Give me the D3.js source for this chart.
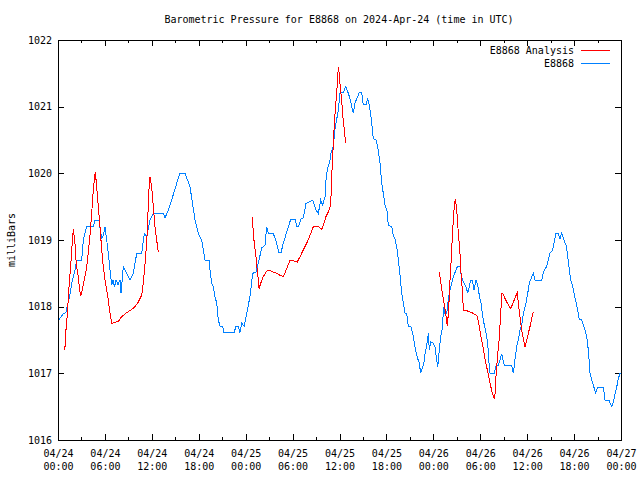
<!DOCTYPE html>
<html>
<head>
<meta charset="utf-8">
<script src="https://cdn.jsdelivr.net/npm/d3@7"></script>
<style>
  html, body { margin: 0; padding: 0; background: #fff; }
  svg { display: block; }
  text { font-family: "DejaVu Sans Mono", "Liberation Mono", monospace; font-size: 10px; fill: #000; }
</style>
</head>
<body>
<svg id="chart" width="640" height="480"></svg>
<script>
// ---------- DATA ----------
const chartTitle = "Barometric Pressure for E8868 on 2024-Apr-24 (time in UTC)";
const yAxisLabel = "milliBars";
const seriesNames = ["E8868 Analysis", "E8868"];
const startTime = "2024-04-24T00:00:00Z";
const xTickHours = [0, 6, 12, 18, 24, 30, 36, 42, 48, 54, 60, 66, 72];
const xMinorTickHours = [3, 9, 15, 21, 27, 33, 39, 45, 51, 57, 63, 69];
const yTicks = [1016, 1017, 1018, 1019, 1020, 1021, 1022];

// Station observations (hours since 04/24 00:00 UTC, mb)
const stationHours = [
  0.1, 0.73, 1.02, 1.15, 1.37, 1.57, 1.75, 2.17, 2.39, 3.03, 3.24, 3.67, 4.51, 4.73, 5.28, 5.37, 5.59, 5.79, 6.01, 6.23,
  6.43, 6.65, 6.87, 7.03, 7.23, 7.42, 7.67, 7.93, 8.06, 8.35, 8.79, 9.21, 9.63, 10.07, 10.70, 11.04, 11.34, 11.77, 12.19, 13.47,
  13.68, 14.11, 14.54, 15.18, 15.60, 16.24, 16.88, 17.52, 17.94, 18.38, 18.80, 19.35, 19.44, 19.66, 19.86, 20.08, 20.30, 20.50, 20.72, 21.06,
  21.23, 22.51, 22.76, 23.06, 23.27, 23.49, 23.82, 24.13, 24.55, 24.90, 25.32, 25.61, 26.05, 26.47, 26.69, 26.89, 27.53, 27.97, 28.26, 28.52,
  28.81, 29.25, 29.76, 30.31, 30.53, 30.78, 31.04, 31.37, 31.72, 32.57, 33.00, 33.29, 33.60, 33.85, 34.15, 34.27, 34.44, 34.79, 34.88, 35.21,
  35.30, 35.43, 35.85, 36.06, 36.28, 36.51, 36.79, 37.13, 37.34, 37.56, 37.76, 37.98, 38.20, 38.53, 38.84, 39.04, 39.39, 39.60, 39.77, 40.03,
  40.32, 40.67, 40.96, 41.18, 41.40, 41.60, 41.82, 42.11, 42.24, 42.68, 42.88, 43.10, 43.39, 43.74, 43.96, 44.16, 44.38, 44.59, 44.80, 45.14,
  45.36, 45.57, 45.78, 46.00, 46.21, 46.38, 46.64, 46.81, 46.94, 47.15, 47.36, 47.49, 47.66, 48.00, 48.21, 48.43, 48.56, 48.76, 48.94, 49.20,
  49.28, 49.49, 49.71, 49.92, 50.13, 50.35, 50.55, 50.90, 51.07, 51.41, 51.50, 51.84, 52.18, 52.40, 52.60, 52.78, 52.99, 53.20, 53.46, 53.68,
  53.88, 54.10, 54.39, 54.74, 54.95, 55.12, 55.25, 55.80, 55.98, 56.31, 56.53, 56.74, 57.08, 58.02, 58.23, 58.45, 58.66, 58.87, 59.08, 59.30,
  59.51, 59.85, 60.07, 60.27, 60.49, 60.78, 61.00, 61.86, 62.06, 62.28, 62.50, 62.70, 62.92, 63.26, 63.43, 63.69, 63.98, 64.20, 64.41, 64.71,
  64.97, 65.13, 65.39, 65.57, 65.82, 65.99, 66.25, 66.41, 66.67, 66.98, 67.18, 67.40, 67.61, 67.82, 68.04, 68.25, 68.46, 68.76, 69.02, 69.74,
  69.96, 70.47, 70.60, 70.82, 71.02, 71.24, 71.46, 71.66, 71.88
];
const stationPressure = [
  1017.8, 1017.9, 1017.91, 1018.0, 1018.1, 1018.2, 1018.35, 1018.55, 1018.7, 1018.7, 1019.0, 1019.2, 1019.2, 1019.3, 1019.3, 1019.18, 1019.03, 1019.07, 1019.2, 1019.0,
  1018.8, 1018.55, 1018.33, 1018.4, 1018.3, 1018.4, 1018.33, 1018.4, 1018.2, 1018.6, 1018.5, 1018.4, 1018.5, 1018.8, 1018.8, 1019.1, 1019.05, 1019.3, 1019.4, 1019.4,
  1019.33, 1019.45, 1019.6, 1019.85, 1020.0, 1020.0, 1019.8, 1019.3, 1019.1, 1019.0, 1018.7, 1018.7, 1018.55, 1018.35, 1018.3, 1018.15, 1018.05, 1017.8, 1017.71, 1017.7,
  1017.61, 1017.61, 1017.7, 1017.7, 1017.61, 1017.75, 1017.71, 1017.9, 1018.15, 1018.5, 1018.52, 1018.65, 1018.88, 1018.92, 1019.2, 1019.1, 1019.1, 1018.95, 1018.81, 1018.81,
  1018.95, 1019.12, 1019.31, 1019.31, 1019.21, 1019.21, 1019.31, 1019.33, 1019.55, 1019.6, 1019.45, 1019.4, 1019.6, 1019.52, 1019.65, 1019.9, 1020.05, 1020.2, 1020.3, 1020.4,
  1020.52, 1020.67, 1020.95, 1021.2, 1021.22, 1021.22, 1021.3, 1021.2, 1021.12, 1021.0, 1020.9, 1021.05, 1021.12, 1021.21, 1021.21, 1021.03, 1021.03, 1021.11, 1021.05, 1020.85,
  1020.52, 1020.5, 1020.35, 1020.15, 1019.85, 1019.7, 1019.52, 1019.42, 1019.22, 1019.2, 1019.07, 1019.02, 1018.85, 1018.47, 1018.2, 1018.05, 1017.9, 1017.9, 1017.7, 1017.7,
  1017.6, 1017.45, 1017.32, 1017.22, 1017.15, 1017.0, 1017.1, 1017.17, 1017.3, 1017.42, 1017.6, 1017.35, 1017.47, 1017.45, 1017.4, 1017.2, 1017.1, 1017.35, 1017.55, 1017.7,
  1018.0, 1017.9, 1017.9, 1018.12, 1018.25, 1018.35, 1018.45, 1018.55, 1018.6, 1018.6, 1018.5, 1018.37, 1018.3, 1018.2, 1018.3, 1018.4, 1018.4, 1018.25, 1018.4, 1018.32,
  1018.17, 1018.05, 1017.8, 1017.6, 1017.45, 1017.15, 1017.0, 1017.0, 1017.1, 1017.12, 1017.2, 1017.29, 1017.12, 1017.12, 1017.0, 1017.22, 1017.4, 1017.5, 1017.65, 1017.72,
  1017.9, 1018.05, 1018.2, 1018.35, 1018.42, 1018.5, 1018.4, 1018.4, 1018.5, 1018.57, 1018.6, 1018.7, 1018.8, 1018.85, 1018.95, 1019.1, 1019.1, 1019.02, 1019.1, 1019.0,
  1018.92, 1018.82, 1018.55, 1018.4, 1018.3, 1018.2, 1018.07, 1017.97, 1017.81, 1017.8, 1017.72, 1017.65, 1017.55, 1017.35, 1017.0, 1016.9, 1016.82, 1016.71, 1016.79, 1016.79,
  1016.6, 1016.6, 1016.55, 1016.5, 1016.57, 1016.7, 1016.8, 1016.92, 1017.0
];

// Analysis runs: [hours since 04/24 00:00 UTC, mb]
const analysisRun1 = [
  [0.86, 1017.35], [0.93, 1017.45], [1.02, 1017.65], [1.15, 1017.82], [1.28, 1018.05], [1.45, 1018.37], [1.62, 1018.6], [1.75, 1018.85],
  [1.88, 1019.05], [1.96, 1019.16], [2.17, 1018.95], [2.30, 1018.7], [2.39, 1018.6], [2.60, 1018.45], [2.72, 1018.3], [2.90, 1018.16],
  [3.03, 1018.22], [3.24, 1018.33], [3.45, 1018.45], [3.67, 1018.6], [3.88, 1018.82], [4.09, 1019.07], [4.31, 1019.4], [4.51, 1019.75],
  [4.64, 1019.9], [4.77, 1020.02], [4.95, 1019.8], [5.15, 1019.5], [5.37, 1019.2], [5.59, 1018.85], [5.79, 1018.6], [6.01, 1018.4],
  [6.23, 1018.25], [6.43, 1018.1], [6.65, 1017.9], [6.87, 1017.75], [7.71, 1017.78], [8.15, 1017.85], [8.79, 1017.91], [9.43, 1017.96],
  [9.85, 1018.0], [10.27, 1018.07], [10.70, 1018.17], [10.91, 1018.35], [11.13, 1018.65], [11.34, 1018.95], [11.47, 1019.3], [11.60, 1019.7],
  [11.77, 1019.95], [11.98, 1019.8], [12.19, 1019.5], [12.40, 1019.2], [12.62, 1019.0], [12.83, 1018.82]
];
const analysisRun2 = [
  [24.85, 1019.35], [24.97, 1019.12], [25.10, 1018.95], [25.28, 1018.8], [25.41, 1018.62], [25.54, 1018.5], [25.71, 1018.27], [25.92, 1018.35],
  [26.25, 1018.45], [26.60, 1018.52], [26.89, 1018.55], [27.53, 1018.52], [27.97, 1018.5], [28.39, 1018.47], [28.81, 1018.45], [29.25, 1018.57],
  [29.67, 1018.7], [30.09, 1018.69], [30.60, 1018.67], [30.95, 1018.75], [31.37, 1018.85], [31.80, 1018.95], [32.23, 1019.07], [32.65, 1019.2],
  [33.29, 1019.2], [33.72, 1019.16], [34.02, 1019.25], [34.27, 1019.35], [34.57, 1019.42], [34.79, 1019.5], [34.91, 1019.65], [35.00, 1019.95],
  [35.13, 1020.25], [35.30, 1020.65], [35.46, 1020.95], [35.64, 1021.2], [35.77, 1021.45], [35.85, 1021.6], [35.97, 1021.5], [36.06, 1021.35],
  [36.28, 1021.1], [36.41, 1020.87], [36.57, 1020.7], [36.70, 1020.55], [36.79, 1020.46]
];
const analysisRun3 = [
  [48.76, 1018.52], [48.94, 1018.37], [49.15, 1018.2], [49.37, 1018.05], [49.58, 1017.9], [49.71, 1017.78], [49.79, 1017.71], [49.92, 1017.9],
  [50.04, 1018.15], [50.13, 1018.4], [50.26, 1018.65], [50.43, 1019.05], [50.55, 1019.3], [50.68, 1019.5], [50.81, 1019.62], [50.99, 1019.45],
  [51.20, 1019.1], [51.41, 1018.8], [51.54, 1018.5], [51.71, 1018.25], [51.84, 1017.95], [52.27, 1017.94], [52.69, 1017.92], [53.11, 1017.9],
  [53.63, 1017.86], [53.84, 1017.72], [54.06, 1017.57], [54.27, 1017.45], [54.49, 1017.3], [54.71, 1017.15], [54.91, 1017.05], [55.25, 1016.85],
  [55.55, 1016.7], [55.80, 1016.61], [55.89, 1016.7], [55.98, 1016.9], [56.11, 1017.1], [56.24, 1017.3], [56.41, 1017.5], [56.62, 1017.9],
  [56.75, 1018.2], [56.88, 1018.2], [57.18, 1018.12], [57.47, 1018.05], [57.91, 1017.97], [58.24, 1018.07], [58.54, 1018.16], [58.75, 1018.21],
  [58.87, 1018.05], [59.08, 1017.85], [59.30, 1017.65], [59.51, 1017.52], [59.72, 1017.4], [59.94, 1017.5], [60.15, 1017.6], [60.36, 1017.7],
  [60.58, 1017.82], [60.78, 1017.92]
];
const analysisRuns = [analysisRun1, analysisRun2, analysisRun3];

// ---------- DRAW ----------
const W = 640, H = 480;
const plot = { left: 58, right: 621, top: 40, bottom: 440 };
const colors = { analysis: "#ff0000", station: "#0080ff" };

const t0 = new Date(startTime);
const toDate = h => new Date(t0.getTime() + h * 3600 * 1000);

const x = d3.scaleUtc()
  .domain([toDate(0), toDate(72)])
  .range([plot.left, plot.right]);
const y = d3.scaleLinear()
  .domain([1016, 1022])
  .range([plot.bottom, plot.top]);

const svg = d3.select("#chart");
svg.append("rect").attr("width", W).attr("height", H).attr("fill", "#fff");

const fmtDate = d3.utcFormat("%m/%d");
const fmtTime = d3.utcFormat("%H:%M");

// Bottom axis (ticks inward)
const gx = svg.append("g")
  .attr("transform", `translate(0,${plot.bottom})`)
  .call(d3.axisBottom(x).tickValues(xTickHours.map(toDate)).tickSize(-6).tickPadding(9).tickSizeOuter(0)
    .tickFormat(d => fmtDate(d)));
gx.selectAll(".tick text").each(function(d) {
  const t = d3.select(this);
  t.text(null).attr("y", 0).attr("dy", null);
  t.append("tspan").attr("x", 0).attr("y", 17).text(fmtDate(d));
  t.append("tspan").attr("x", 0).attr("y", 30).text(fmtTime(d));
});
svg.append("g")
  .attr("transform", `translate(0,${plot.bottom})`)
  .call(d3.axisBottom(x).tickValues(xMinorTickHours.map(toDate)).tickSize(-3).tickFormat("").tickSizeOuter(0));

// Top mirror
svg.append("g")
  .attr("transform", `translate(0,${plot.top})`)
  .call(d3.axisTop(x).tickValues(xTickHours.map(toDate)).tickSize(-6).tickFormat("").tickSizeOuter(0));
svg.append("g")
  .attr("transform", `translate(0,${plot.top})`)
  .call(d3.axisTop(x).tickValues(xMinorTickHours.map(toDate)).tickSize(-3).tickFormat("").tickSizeOuter(0));

// Left axis
svg.append("g")
  .attr("transform", `translate(${plot.left},0)`)
  .call(d3.axisLeft(y).tickValues(yTicks).tickSize(-6).tickPadding(6).tickFormat(d3.format("d")).tickSizeOuter(0));
// Right mirror
svg.append("g")
  .attr("transform", `translate(${plot.right},0)`)
  .call(d3.axisRight(y).tickValues(yTicks).tickSize(-6).tickFormat("").tickSizeOuter(0));

svg.selectAll(".domain").remove();
svg.selectAll(".tick line").attr("stroke", "#000").attr("shape-rendering", "crispEdges");
svg.selectAll(".tick text").attr("font-family", null).attr("font-size", null).attr("fill", "#000");

// Border
svg.append("rect")
  .attr("x", plot.left + 0.5).attr("y", plot.top + 0.5)
  .attr("width", plot.right - plot.left).attr("height", plot.bottom - plot.top)
  .attr("fill", "none").attr("stroke", "#000").attr("stroke-width", 1)
  .attr("shape-rendering", "crispEdges");

// Lines
const line = d3.line().x(d => x(toDate(d[0]))).y(d => y(d[1]));
const stationData = stationHours.map((h, i) => [h, stationPressure[i]]);

svg.append("path")
  .datum(stationData)
  .attr("d", line)
  .attr("fill", "none").attr("stroke", colors.station).attr("stroke-width", 1)
  .attr("shape-rendering", "crispEdges");

analysisRuns.forEach(run => {
  svg.append("path")
    .datum(run)
    .attr("d", line)
    .attr("fill", "none").attr("stroke", colors.analysis).attr("stroke-width", 1)
    .attr("shape-rendering", "crispEdges");
});

// Title
svg.append("text")
  .attr("x", 339).attr("y", 23)
  .attr("text-anchor", "middle")
  .text(chartTitle);

// Y label
svg.append("text")
  .attr("transform", "translate(15,240) rotate(-90)")
  .attr("text-anchor", "middle")
  .text(yAxisLabel);

// Legend
const legend = svg.append("g");
[colors.analysis, colors.station].forEach((c, i) => {
  const yy = 50 + i * 13;
  legend.append("text")
    .attr("x", 574).attr("y", yy + 4)
    .attr("text-anchor", "end")
    .text(seriesNames[i]);
  legend.append("line")
    .attr("x1", 581).attr("x2", 610).attr("y1", yy + 0.5).attr("y2", yy + 0.5)
    .attr("stroke", c).attr("stroke-width", 1).attr("shape-rendering", "crispEdges");
});
</script>
</body>
</html>
